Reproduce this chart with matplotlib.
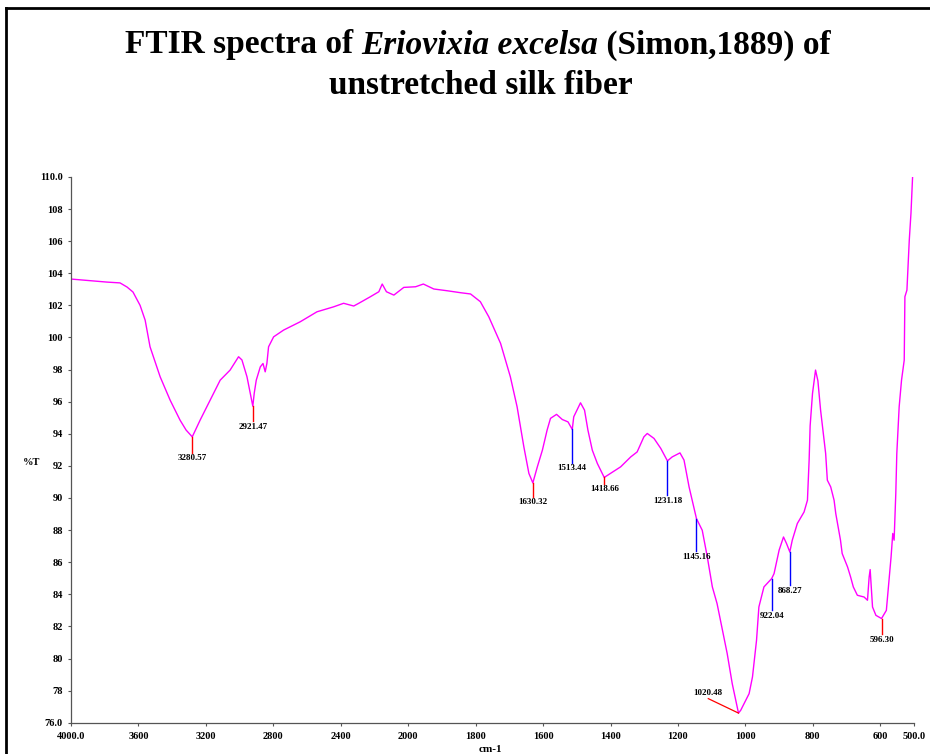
import numpy as np
import matplotlib
matplotlib.use("Agg")
import matplotlib.pyplot as plt
from matplotlib.lines import Line2D

# --- spectrum (wavenumber cm-1, %T) ---
WAVENUMBER = [
    4000, 3786, 3709, 3667, 3632, 3590, 3560, 3531, 3471, 3412, 3353, 3317,
    3280.57, 3234, 3174, 3115, 3056, 3006, 2986, 2956, 2937, 2921.47, 2913,
    2901, 2877, 2861, 2848, 2838, 2828, 2798, 2739, 2659, 2640, 2541, 2442,
    2383, 2323, 2293, 2224, 2174, 2154, 2129, 2085, 2026, 1978, 1955, 1924,
    1884, 1845, 1815, 1786, 1761, 1726, 1697, 1677, 1657, 1642, 1630.32, 1617,
    1602, 1588, 1578, 1560, 1543, 1526, 1513.44, 1509, 1497, 1489, 1477, 1467,
    1454, 1439, 1418.66, 1400, 1370, 1340, 1321, 1301, 1291, 1271, 1251,
    1231.18, 1217, 1194, 1182, 1167, 1145.16, 1128, 1113, 1098, 1084, 1068,
    1054, 1039, 1020.48, 1014, 989, 979, 967, 960, 945, 922.04, 915, 900, 887,
    878, 868.27, 861, 846, 826, 816, 811, 808, 801, 792, 785, 777, 762, 757,
    747, 737, 732, 718, 713, 697, 688, 680, 668, 648, 638, 633, 630, 623, 613,
    596.30, 582, 574, 568, 563, 559, 554, 551, 544, 537, 529, 527, 521, 514,
    509, 504, 500,
]
TRANSMITTANCE = [
    103.64, 103.45, 103.40, 103.14, 102.83, 102.00, 101.08, 99.42, 97.55,
    96.10, 94.85, 94.23, 93.81, 94.85, 96.10, 97.34, 97.97, 98.80, 98.60,
    97.55, 96.53, 95.72, 96.53, 97.34, 98.17, 98.38, 97.86, 98.38, 99.42,
    100.04, 100.46, 100.88, 100.98, 101.60, 101.91, 102.13, 101.96, 102.13,
    102.54, 102.85, 103.33, 102.85, 102.64, 103.12, 103.16, 103.33, 103.02,
    102.91, 102.79, 102.71, 102.23, 101.29, 99.63, 97.55, 95.68, 93.19, 91.53,
    90.94, 91.94, 92.98, 94.23, 94.96, 95.21, 94.89, 94.74, 94.27, 95.06,
    95.58, 95.93, 95.47, 94.23, 92.98, 92.15, 91.28, 91.53, 91.94, 92.56,
    92.87, 93.81, 94.02, 93.71, 93.09, 92.31, 92.56, 92.81, 92.36, 90.69,
    88.72, 87.99, 86.33, 84.46, 83.42, 81.76, 80.31, 78.43, 76.60, 76.77,
    77.81, 78.85, 81.13, 83.21, 84.46, 84.98, 85.29, 86.75, 87.57, 87.16,
    86.64, 87.37, 88.41, 89.13, 89.86, 92.36, 94.50, 96.51, 97.97, 97.30,
    95.47, 92.77, 91.11, 90.69, 89.86, 89.03, 87.37, 86.54, 85.70, 85.08,
    84.46, 83.94, 83.83, 83.63, 85.08, 85.54, 83.21, 82.69, 82.49, 83.00,
    84.87, 86.33, 87.79, 87.37, 90.28, 92.77, 95.68, 97.34, 98.59, 102.54,
    102.95, 106.07, 107.74, 110.10, 110.10,
]

# --- peak picks: wavenumber, %T at peak, %T at end of marker line, colour ---
PEAK_WN = [3280.57, 2921.47, 1630.32, 1513.44, 1418.66, 1231.18, 1145.16,
           922.04, 868.27, 596.30]
PEAK_T = [93.81, 95.72, 90.94, 94.27, 91.28, 92.31, 88.72, 84.98, 86.64, 82.49]
PEAK_END = [92.82, 94.79, 90.07, 92.19, 90.90, 90.17, 86.68, 83.00, 84.56, 81.50]
PEAK_COLOR = ["red", "red", "red", "blue", "red", "blue", "blue", "blue",
              "blue", "red"]
PEAK_LABELS = ["3280.57", "2921.47", "1630.32", "1513.44", "1418.66",
               "1231.18", "1145.16", "922.04", "868.27", "596.30"]

# the 1020.48 pick has a slanted leader
DIAG_PEAK = (1020.48, 76.60)
DIAG_END = (1110, 77.50)
DIAG_LABEL = "1020.48"

X_TICKS = [4000, 3600, 3200, 2800, 2400, 2000, 1800, 1600, 1400, 1200, 1000,
           800, 600, 500]
X_TICK_LABELS = ["4000.0", "3600", "3200", "2800", "2400", "2000", "1800",
                 "1600", "1400", "1200", "1000", "800", "600", "500.0"]
Y_TICKS = list(range(76, 111, 2))
Y_TICK_LABELS = ["76.0"] + [str(v) for v in Y_TICKS[1:-1]] + ["110.0"]

SERIF = "Liberation Serif"


def fwd(x):
    # 4000-2000 is drawn at half the scale of 2000-500
    x = np.asarray(x, dtype=float)
    return np.where(x < 2000, x, 2000 + (x - 2000) / 2)


def inv(y):
    y = np.asarray(y, dtype=float)
    return np.where(y < 2000, y, 2000 + (y - 2000) * 2)


def main() -> None:
    fig = plt.figure(figsize=(9.3, 7.54), dpi=100)
    ax = fig.add_axes([0.0763, 0.0415, 0.9065, 0.7238])

    ax.set_xscale("function", functions=(fwd, inv))
    ax.set_xlim(4000, 500)
    ax.set_ylim(76, 110)

    ax.plot(WAVENUMBER, TRANSMITTANCE, color="#ff00ff", lw=1.0)

    for wn, t, end, col, lab in zip(PEAK_WN, PEAK_T, PEAK_END, PEAK_COLOR,
                                    PEAK_LABELS):
        ax.plot([wn, wn], [t, end], color=col, lw=1.0)
        ax.text(wn, end - 0.1, lab, ha="center", va="top", fontsize=6.5,
                fontweight="bold", family=SERIF)

    ax.plot([DIAG_PEAK[0], DIAG_END[0]], [DIAG_PEAK[1], DIAG_END[1]],
            color="red", lw=0.9)
    ax.text(DIAG_END[0], DIAG_END[1] + 0.1, DIAG_LABEL, ha="center",
            va="bottom", fontsize=6.5, fontweight="bold", family=SERIF)

    ax.set_xticks(X_TICKS)
    ax.set_xticklabels(X_TICK_LABELS)
    ax.xaxis.set_minor_locator(matplotlib.ticker.NullLocator())
    ax.set_yticks(Y_TICKS)
    ax.set_yticklabels(Y_TICK_LABELS)
    for lab in ax.get_xticklabels() + ax.get_yticklabels():
        lab.set_family(SERIF)
        lab.set_fontweight("bold")
        lab.set_fontsize(7.5)
    ax.tick_params(axis="both", length=2, width=0.8, color="#555555")
    ax.tick_params(axis="x", pad=5)
    ax.tick_params(axis="y", pad=4)

    for side in ("top", "right"):
        ax.spines[side].set_visible(False)
    for side in ("left", "bottom"):
        ax.spines[side].set_color("#555555")
        ax.spines[side].set_linewidth(0.9)

    fig.text(32 / 930, 1 - 463 / 754, "%T", ha="center", va="center",
             fontsize=7.5, fontweight="bold", family=SERIF)
    fig.text(490 / 930, 1 - 749 / 754, "cm-1", ha="center", va="center",
             fontsize=8, fontweight="bold", family=SERIF)

    # title with the species name in italics, built from three pieces
    renderer = fig.canvas.get_renderer()
    parts = [("FTIR spectra of ", "normal"), ("Eriovixia excelsa", "italic"),
             (" (Simon,1889) of", "normal")]
    y1 = 1 - 45 / 754
    texts = []
    for s, style in parts:
        t = fig.text(0, y1, s, fontsize=24, fontweight="bold", style=style,
                     family=SERIF, ha="left", va="center")
        texts.append(t)
    widths = [t.get_window_extent(renderer).width for t in texts]
    x = 478 - sum(widths) / 2
    for t, w in zip(texts, widths):
        t.set_x(x / 930)
        x += w
    fig.text(481 / 930, 1 - 86 / 754, "unstretched silk fiber", fontsize=24,
             fontweight="bold", family=SERIF, ha="center", va="center")

    # frame around the figure panel
    fig.add_artist(Line2D([6 / 930, 6 / 930], [0, 1 - 8 / 754],
                          transform=fig.transFigure, color="black", lw=2))
    fig.add_artist(Line2D([6 / 930, 1], [1 - 8 / 754, 1 - 8 / 754],
                          transform=fig.transFigure, color="black", lw=2))

    fig.savefig("out.png", dpi=100)


if __name__ == "__main__":
    main()
